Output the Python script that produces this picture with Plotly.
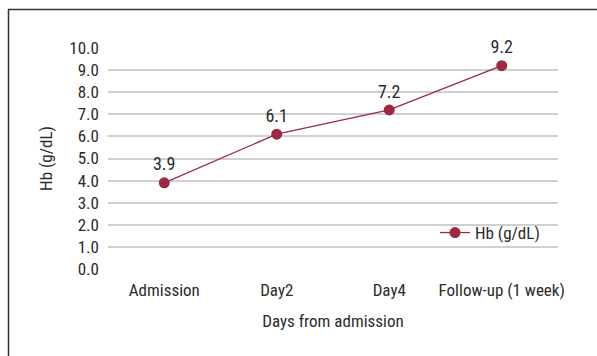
import plotly.graph_objects as go

categories = ["Admission", "Day2", "Day4", "Follow-up (1 week)"]
hb_values = [3.9, 6.1, 7.2, 9.2]
y_ticks = [0, 1, 2, 3, 4, 5, 6, 7, 8, 9, 10]
series_name = "Hb (g/dL)"

FONT = "Liberation Sans Narrow, Roboto Condensed, Arial Narrow, sans-serif"
COLOR = "#9B2942"
TEXT = "#2b2b2b"
FS = 17

fig = go.Figure()
fig.add_trace(go.Scatter(
    x=categories, y=hb_values, name=series_name,
    mode="lines+markers+text",
    line=dict(color=COLOR, width=1.3),
    marker=dict(color=COLOR, size=11),
    text=[f"{v:.1f}" for v in hb_values],
    textposition="top center",
    textfont=dict(family=FONT, size=18, color=TEXT),
    cliponaxis=False,
))

L, R, T, B = 108, 39, 48, 87
W, H = 597, 356
pw, ph = W - L - R, H - T - B

def px(x):
    return (x - L) / pw

def py(y):
    return (H - B - y) / ph

fig.update_layout(
    width=W, height=H,
    margin=dict(l=L, r=R, t=T, b=B, pad=0),
    paper_bgcolor="white", plot_bgcolor="white",
    font=dict(family=FONT, size=FS, color=TEXT),
    showlegend=True,
    legend=dict(
        x=px(435), y=py(233), xanchor="left", yanchor="middle",
        bgcolor="rgba(0,0,0,0)", font=dict(family=FONT, size=FS, color=TEXT),
    ),
    xaxis=dict(
        type="category", range=[-0.5, 3.5], showgrid=False, zeroline=False,
        showline=False, ticks="", ticklabelstandoff=9,
        tickfont=dict(family=FONT, size=FS, color=TEXT),
        title=dict(text="Days from admission", font=dict(family=FONT, size=FS, color=TEXT), standoff=16),
    ),
    yaxis=dict(
        range=[0, 10], tickvals=y_ticks, ticktext=[f"{v:.1f}" for v in y_ticks],
        showgrid=True, gridcolor="#d0d0d0", gridwidth=1.5, zeroline=False,
        showline=False, ticks="", ticklabelstandoff=8,
        tickfont=dict(family=FONT, size=FS, color=TEXT),
        title=dict(text="Hb (g/dL)", font=dict(family=FONT, size=FS, color=TEXT), standoff=12),
    ),
    shapes=[
        dict(type="line", xref="paper", yref="paper", x0=px(8.5), x1=px(8.5), y0=py(9), y1=py(370),
             line=dict(color="#333333", width=1.5)),
        dict(type="line", xref="paper", yref="paper", x0=px(8), x1=px(610), y0=py(9.5), y1=py(9.5),
             line=dict(color="#333333", width=1.5)),
    ],
)

fig.write_html("out.html")
